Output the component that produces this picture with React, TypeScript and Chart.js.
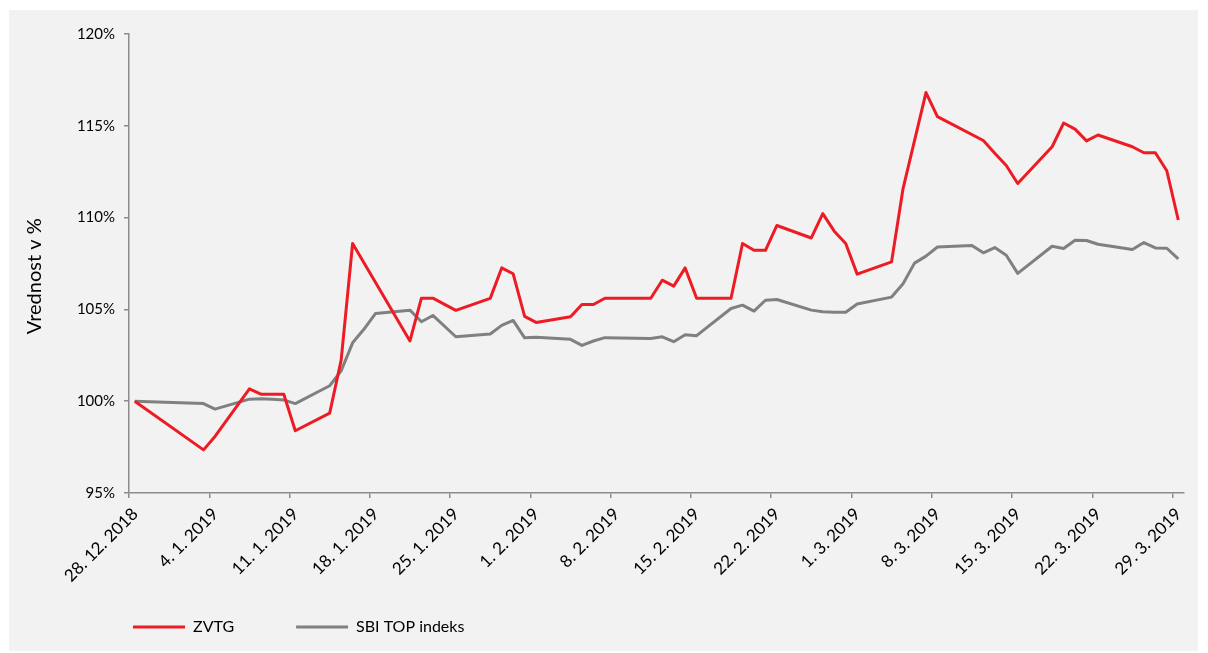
import React, { useEffect, useRef } from 'react';
import { Chart, registerables } from 'chart.js';

Chart.register(...registerables);

// Trading days (ISO dates)
const tradingDates = [
  '2018-12-28', '2019-01-03', '2019-01-04', '2019-01-07', '2019-01-08', '2019-01-09', '2019-01-10', '2019-01-11',
  '2019-01-14', '2019-01-15', '2019-01-16', '2019-01-17', '2019-01-18', '2019-01-21', '2019-01-22', '2019-01-23',
  '2019-01-24', '2019-01-25', '2019-01-28', '2019-01-29', '2019-01-30', '2019-01-31', '2019-02-01', '2019-02-04',
  '2019-02-05', '2019-02-06', '2019-02-07', '2019-02-11', '2019-02-12', '2019-02-13', '2019-02-14', '2019-02-15',
  '2019-02-18', '2019-02-19', '2019-02-20', '2019-02-21', '2019-02-22', '2019-02-25', '2019-02-26', '2019-02-27',
  '2019-02-28', '2019-03-01', '2019-03-04', '2019-03-05', '2019-03-06', '2019-03-07', '2019-03-08', '2019-03-11',
  '2019-03-12', '2019-03-13', '2019-03-14', '2019-03-15', '2019-03-18', '2019-03-19', '2019-03-20', '2019-03-21',
  '2019-03-22', '2019-03-25', '2019-03-26', '2019-03-27', '2019-03-28', '2019-03-29',
];

const zvtgValues = [
  100.0, 97.35, 98.08, 100.67, 100.38, 100.38, 100.38, 98.39,
  99.35, 102.24, 108.59, null, null, 103.28, 105.61, 105.61,
  null, 104.95, 105.6, 107.26, 106.94, 104.62, 104.29, 104.6,
  105.27, 105.27, 105.61, 105.61, 106.59, 106.27, 107.26, 105.61,
  105.61, 108.59, 108.22, 108.22, 109.57, 108.89, 110.22, 109.26,
  108.59, 106.92, 107.59, 111.58, null, 116.81, 115.5, null,
  114.2, 113.51, 112.84, 111.86, 113.86, 115.15, 114.82, 114.18,
  114.5, 113.86, 113.53, 113.53, 112.55, 109.87,
];

const sbiTopValues = [
  100.0, 99.87, 99.57, 100.11, 100.13, 100.1, 100.07, 99.87,
  100.84, 101.65, 103.18, 103.93, 104.78, 104.96, 104.33, 104.67,
  null, 103.51, 103.66, 104.13, 104.4, 103.45, 103.48, 103.37,
  103.04, 103.28, 103.46, 103.42, 103.51, 103.24, 103.62, 103.57,
  105.05, 105.23, 104.91, 105.5, 105.54, 104.96, 104.87, 104.84,
  104.84, 105.29, 105.67, 106.4, 107.52, 107.9, 108.4, 108.48,
  108.08, 108.37, 107.95, 106.96, 108.44, 108.32, 108.77, 108.75,
  108.55, 108.26, 108.64, 108.35, 108.33, 107.75,
];

const tickDates = [
  '2018-12-28', '2019-01-04', '2019-01-11', '2019-01-18', '2019-01-25', '2019-02-01', '2019-02-08',
  '2019-02-15', '2019-02-22', '2019-03-01', '2019-03-08', '2019-03-15', '2019-03-22', '2019-03-29',
];
const tickLabels = [
  '28. 12. 2018', '4. 1. 2019', '11. 1. 2019', '18. 1. 2019', '25. 1. 2019', '1. 2. 2019', '8. 2. 2019',
  '15. 2. 2019', '22. 2. 2019', '1. 3. 2019', '8. 3. 2019', '15. 3. 2019', '22. 3. 2019', '29. 3. 2019',
];
const yTickValues = [95, 100, 105, 110, 115, 120];
const seriesNames = ['ZVTG', 'SBI TOP indeks'];
const seriesColors = ['#ED1C24', '#808080'];
const yTitle = 'Vrednost v %';

const START = Date.UTC(2018, 11, 28);
const dayIndex = (iso: string) => {
  const [y, m, d] = iso.split('-').map(Number);
  return (Date.UTC(y, m - 1, d) - START) / 86400000;
};

const FONT = 'Lato, "Open Sans", sans-serif';
const AXIS = '#8c8c8c';

export default function App() {
  const ref = useRef<HTMLCanvasElement | null>(null);

  useEffect(() => {
    if (!ref.current) return;
    const mk = (vals: (number | null)[]) =>
      tradingDates.map((d, i) => ({ x: dayIndex(d), y: vals[i] }));

    const legendPlace = {
      id: 'legendPlace',
      afterLayout(chart: any) {
        const lg = chart.legend;
        if (lg) {
          lg.left = 62;
          lg.top = 547;
        }
      },
    };

    const chart = new Chart(ref.current, {
      type: 'line',
      data: {
        datasets: [zvtgValues, sbiTopValues].map((vals, i) => ({
          label: seriesNames[i],
          data: mk(vals),
          borderColor: seriesColors[i],
          backgroundColor: seriesColors[i],
          borderWidth: 3,
          pointRadius: 0,
          pointStyle: 'line',
          spanGaps: true,
          tension: 0,
          borderJoinStyle: 'round',
        })) as any,
      },
      options: {
        animation: false,
        responsive: false,
        layout: { padding: { top: 24, right: 14, left: 0, bottom: 0 } },
        plugins: {
          legend: {
            position: 'bottom',
            align: 'start',
            maxHeight: 30,
            labels: {
              usePointStyle: true,
              pointStyle: 'line',
              pointStyleWidth: 52,
              padding: 62,
              color: '#000',
              font: { family: FONT, size: 16 },
            },
          },
          tooltip: { enabled: false },
        },
        scales: {
          x: {
            type: 'linear',
            min: -0.5,
            max: 91.5,
            afterBuildTicks: (s: any) => {
              s.ticks = tickDates.map((d) => ({ value: dayIndex(d) - 0.5 }));
            },
            afterFit: (s: any) => {
              s.height = 128;
            },
            ticks: {
              autoSkip: false,
              maxRotation: 45,
              minRotation: 45,
              color: '#000',
              padding: 6,
              labelOffset: 6,
              font: { family: FONT, size: 17 },
              callback: (_v: any, i: number) => tickLabels[i],
            },
            grid: {
              display: true,
              drawOnChartArea: false,
              drawTicks: true,
              tickLength: 5,
              color: AXIS,
              lineWidth: 1.5,
            },
            border: { color: AXIS, width: 1.5 },
          },
          y: {
            min: 95,
            max: 120,
            afterBuildTicks: (s: any) => {
              s.ticks = yTickValues.map((v) => ({ value: v }));
            },
            afterFit: (s: any) => {
              s.width = 120;
            },
            ticks: {
              color: '#000',
              padding: 9,
              font: { family: FONT, size: 15 },
              callback: (v: any) => v + '%',
            },
            title: {
              display: true,
              text: yTitle + '\u00A0\u00A0\u00A0\u00A0\u00A0',
              color: '#000',
              font: { family: FONT, size: 20 },
              padding: { top: 14, bottom: 0 },
            },
            grid: {
              display: true,
              drawOnChartArea: false,
              drawTicks: true,
              tickLength: 5,
              color: AXIS,
              lineWidth: 1.5,
            },
            border: { color: AXIS, width: 1.5 },
          },
        },
      } as any,
      plugins: [legendPlace],
    });
    return () => chart.destroy();
  }, []);

  return (
    <div
      style={{
        position: 'absolute',
        left: 9,
        top: 10,
        width: 1189,
        height: 641,
        background: '#f2f2f2',
      }}
    >
      <canvas ref={ref} width={1189} height={641} style={{ display: 'block' }} />
    </div>
  );
}
